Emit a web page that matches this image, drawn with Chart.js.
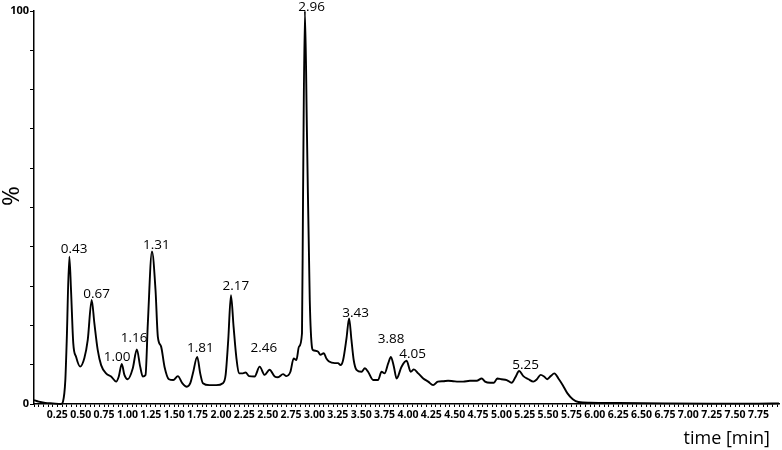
<!DOCTYPE html>
<html>
<head>
<meta charset="utf-8">
<title>Chromatogram</title>
<script src="https://cdn.jsdelivr.net/npm/chart.js@4/dist/chart.umd.min.js"></script>
<style>
  html, body { margin: 0; padding: 0; background: #fff; }
  canvas { display: block; }
</style>
</head>
<body>
<canvas id="chrom" width="782" height="450"></canvas>
<script>
// retention time (min) and relative intensity (%)
const times = [
  0.00, 0.05, 0.12, 0.20, 0.29, 0.31, 0.335, 0.35, 0.378, 0.396,
  0.42, 0.45, 0.493, 0.539, 0.575, 0.617, 0.646, 0.682, 0.718, 0.771,
  0.825, 0.879, 0.907, 0.939, 0.967, 1.003, 1.057, 1.10, 1.136, 1.164,
  1.193, 1.218, 1.262, 1.30, 1.325, 1.36, 1.396, 1.443, 1.49, 1.539,
  1.586, 1.635, 1.672, 1.70, 1.746, 1.778, 1.807, 1.878, 1.95, 2.02,
  2.05, 2.078, 2.107, 2.135, 2.164, 2.193, 2.235, 2.264, 2.30, 2.36,
  2.414, 2.468, 2.52, 2.575, 2.61, 2.664, 2.70, 2.743, 2.778, 2.807,
  2.835, 2.867, 2.878, 2.898, 2.92, 2.95, 2.975, 2.985, 3.04, 3.064,
  3.10, 3.128, 3.157, 3.218, 3.253, 3.279, 3.307, 3.343, 3.371, 3.396,
  3.42, 3.45, 3.504, 3.54, 3.574, 3.628, 3.68, 3.718, 3.75, 3.79,
  3.818, 3.85, 3.879, 3.932, 3.986, 4.03, 4.064, 4.11, 4.164, 4.217,
  4.27, 4.32, 4.378, 4.43, 4.485, 4.54, 4.59, 4.664, 4.736, 4.79,
  4.825, 4.88, 4.92, 4.956, 5.00, 5.057, 5.11, 5.15, 5.19, 5.235,
  5.29, 5.342, 5.38, 5.42, 5.457, 5.49, 5.528, 5.567, 5.61, 5.657,
  5.707, 5.764, 5.824, 5.95, 6.25, 6.75, 7.25, 7.75, 7.97
];
const intensity = [
  1.0, 0.6, 0.3, 0.15, 0.0, 0.6, 6, 16, 37.5, 29,
  15.5, 12, 9.5, 11.7, 16.3, 26.5, 20.5, 13.7, 9.9, 7.8,
  7, 5.7, 7, 10.2, 7.4, 6.3, 9.1, 13.9, 9.5, 7,
  7.4, 20.6, 38.8, 29, 17.1, 14.6, 9.5, 6.3, 6.1, 7.1,
  5.3, 4.4, 5.3, 7.8, 12, 7.8, 5.3, 4.8, 4.8, 5.3,
  7.4, 16.3, 27.7, 19.7, 12, 7.8, 7.8, 8, 7.1, 7,
  9.5, 7.4, 8.7, 7, 6.8, 7.6, 7.1, 8.2, 11.6, 11.2,
  14.6, 18, 52, 100, 69, 26.5, 14.2, 13.7, 13.3, 12.5,
  12.9, 11.6, 10.8, 10.4, 10.4, 9.9, 11.2, 16.7, 21.8, 16.3,
  11.2, 8.7, 8.2, 9.1, 8.2, 6.1, 6.1, 8.2, 7.8, 10.4,
  12, 9.5, 6.5, 9.5, 11, 8.2, 8.8, 7.8, 6.5, 5.7,
  4.8, 5.7, 5.8, 5.9, 5.8, 5.7, 5.7, 5.9, 5.9, 6.5,
  5.7, 5.4, 5.4, 6.5, 6.3, 6.1, 5.4, 6.8, 8.4, 7.1,
  6.3, 5.7, 6.3, 7.4, 7, 6.3, 7.1, 7.8, 6.5, 4.8,
  2.7, 1.2, 0.5, 0.33, 0.25, 0.15, 0.1, 0.1, 0.15
];

// peak annotations: text, time where it is centred, height of its baseline (%)
const peakLabels = ['0.43', '0.67', '1.00', '1.16', '1.31', '1.81', '2.17', '2.46', '2.96', '3.43', '3.88', '4.05', '5.25'];
const peakTimes  = [0.43, 0.67, 0.89, 1.07, 1.31, 1.78, 2.16, 2.46, 2.97, 3.44, 3.82, 4.05, 5.26];
const peakLabelY = [38.4, 27.0, 11.0, 15.9, 39.4, 13.2, 29.0, 13.3, 99.9, 22.2, 15.5, 11.7, 8.8];

const points = times.map((t, i) => ({ x: t, y: intensity[i] }));

const annotate = {
  id: 'annotate',
  afterDraw(chart) {
    const { ctx, scales: { x, y } } = chart;
    ctx.save();
    ctx.fillStyle = '#000';

    // peak retention time labels
    ctx.font = '13.5px "Open Sans", sans-serif';
    ctx.textAlign = 'center';
    ctx.textBaseline = 'alphabetic';
    peakLabels.forEach((txt, i) => {
      ctx.fillText(txt, x.getPixelForValue(peakTimes[i]), y.getPixelForValue(peakLabelY[i]));
    });

    // axis titles
    ctx.font = '18px "Open Sans", sans-serif';
    ctx.textAlign = 'right';
    ctx.fillText('time [min]', 770, 444);

    ctx.translate(12, 196);
    ctx.rotate(-Math.PI / 2);
    ctx.font = '24px "Open Sans", sans-serif';
    ctx.textAlign = 'center';
    ctx.textBaseline = 'middle';
    ctx.fillText('%', 0, 0);
    ctx.restore();
  }
};

new Chart(document.getElementById('chrom'), {
  type: 'line',
  data: {
    datasets: [{
      data: points,
      borderColor: '#000',
      borderWidth: 1.9,
      pointRadius: 0,
      fill: false,
      cubicInterpolationMode: 'monotone',
      clip: false
    }]
  },
  options: {
    responsive: false,
    animation: false,
    layout: { padding: { top: 11, right: 3, left: 0, bottom: 0 } },
    plugins: { legend: { display: false }, tooltip: { enabled: false } },
    scales: {
      x: {
        type: 'linear',
        min: 0,
        max: 7.97,
        afterBuildTicks(scale) {
          const t = [];
          for (let i = 0; i < 160; i++) t.push({ value: i * 0.05 });
          scale.ticks = t;
        },
        afterFit(scale) { scale.height = 46; },
        ticks: {
          autoSkip: false,
          maxRotation: 0,
          padding: 2,
          color: '#000',
          font: { family: '"Open Sans", sans-serif', size: 10.5, weight: 'bold' },
          callback(v) {
            const c = Math.round(v * 100);
            return (c > 0 && c % 25 === 0) ? (c / 100).toFixed(2) : '';
          }
        },
        grid: { drawOnChartArea: false, tickLength: 3, color: '#000', lineWidth: 1 },
        border: { color: '#000', width: 1.5 }
      },
      y: {
        min: 0,
        max: 100,
        afterFit(scale) { scale.width = 34; },
        ticks: {
          stepSize: 10,
          padding: 1,
          color: '#000',
          font: { family: '"Open Sans", sans-serif', size: 11, weight: 'bold' },
          callback(v) { return (v === 0 || v === 100) ? v : ''; }
        },
        grid: { drawOnChartArea: false, tickLength: 4, color: '#000', lineWidth: 1 },
        border: { color: '#000', width: 1.5 }
      }
    }
  },
  plugins: [annotate]
});
</script>
</body>
</html>
